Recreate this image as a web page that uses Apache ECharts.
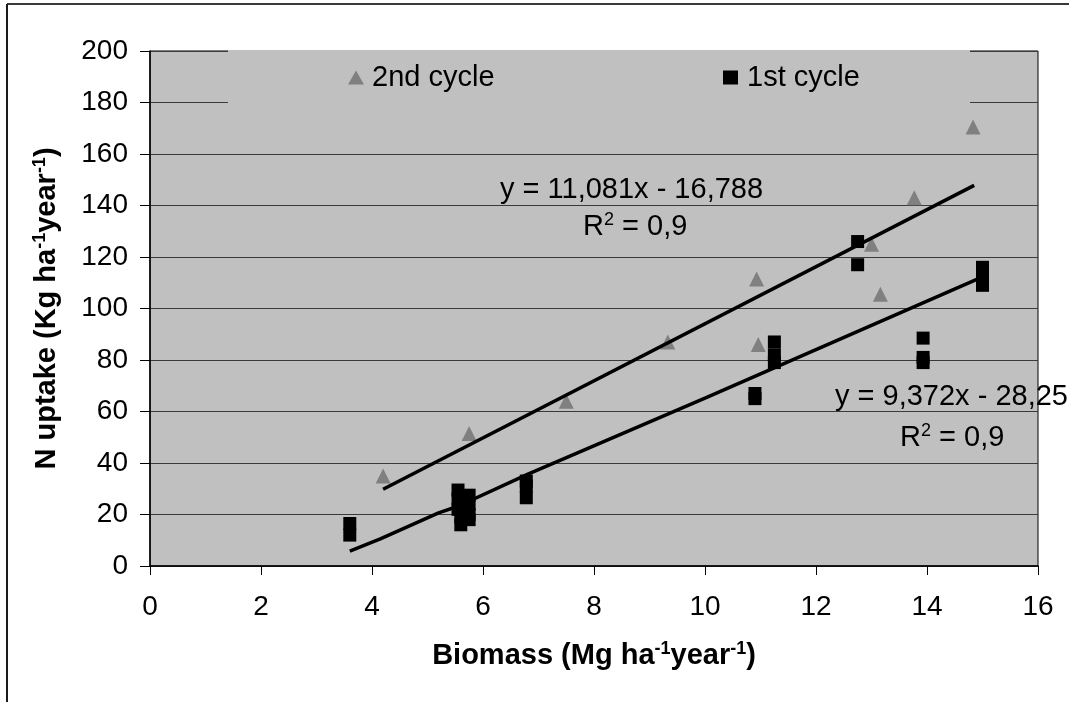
<!DOCTYPE html>
<html>
<head>
<meta charset="utf-8">
<script src="https://cdn.jsdelivr.net/npm/echarts@6/dist/echarts.min.js"></script>
<style>
html, body { margin: 0; padding: 0; background: #fff; }
#main { width: 1069px; height: 702px; }
</style>
</head>
<body>
<div id="main"></div>
<script>
// 数据：从图上读出来的点
var cycle2 = [
	[4.2, 35], [5.75, 51.5], [7.5, 64], [9.33, 87], [10.93, 111.5],
	[10.96, 86], [13.0, 125], [13.16, 105.5], [13.77, 143], [14.83, 170.5]
];
var cycle1 = [
	[3.6, 16.5], [3.6, 12],
	[5.55, 29.5], [5.55, 26], [5.55, 22], [5.6, 19], [5.6, 16],
	[5.75, 27.5], [5.75, 24], [5.75, 20], [5.75, 18],
	[6.78, 33], [6.78, 31], [6.78, 26.5],
	[10.9, 67], [10.9, 65],
	[11.25, 87], [11.25, 82], [11.25, 79],
	[12.75, 126], [12.75, 117],
	[13.93, 88.5], [13.93, 81], [13.93, 79],
	[15.0, 116], [15.0, 113], [15.0, 109]
];
// 趋势线端点（也是从图上读的）
var trend2 = [[4.2, 29.8], [14.85, 147.8]];
var trend1 = [[3.6, 5.8], [4.15, 10.5], [5.2, 20.6], [5.55, 23.2], [6.8, 35.6], [10.0, 65.2], [15.0, 112.3]];

var xTicks = [0, 2, 4, 6, 8, 10, 12, 14, 16];
var yTicks = [0, 20, 40, 60, 80, 100, 120, 140, 160, 180, 200];

var FONT = 'Liberation Sans, Arial, sans-serif';
var supStyle = { fontFamily: FONT, fontSize: 18, verticalAlign: 'top', padding: [0, 0, 13, 0] };

var myChart = echarts.init(document.getElementById('main'));

var option = {
	backgroundColor: '#fff',
	animation: false,
	grid: {
		left: 150,
		right: 31,
		top: 51,
		bottom: 136,
		show: true,
		backgroundColor: '#c0c0c0',
		borderColor: '#000',
		borderWidth: 1
	},
	legend: [{
		left: 343,
		top: 58,
		itemWidth: 16,
		itemHeight: 14,
		itemGap: 0,
		textStyle: { fontFamily: FONT, fontSize: 29, color: '#000', padding: [0, 0, 0, 3] },
		data: [{ name: '2nd cycle', icon: 'triangle' }]
	}, {
		left: 718,
		top: 58,
		itemWidth: 15,
		itemHeight: 14,
		itemGap: 0,
		textStyle: { fontFamily: FONT, fontSize: 29, color: '#000', padding: [0, 0, 0, 4] },
		data: [{ name: '1st cycle', icon: 'rect' }]
	}],
	xAxis: {
		type: 'value',
		min: 0,
		max: 16,
		interval: 2,
		name: 'Biomass (Mg ha{s|-1}year{s|-1})',
		nameLocation: 'middle',
		nameGap: 74,
		nameTextStyle: {
			fontFamily: FONT, fontSize: 29, fontWeight: 'bold', color: '#000',
			rich: { s: Object.assign({ fontWeight: 'bold' }, supStyle) }
		},
		axisLine: { lineStyle: { color: '#000', width: 1.5 } },
		axisTick: { show: true, length: 9, lineStyle: { color: '#000', width: 1 } },
		axisLabel: {
			fontFamily: FONT, fontSize: 28, color: '#000', margin: 27,
			formatter: function (v) { return xTicks.indexOf(v) >= 0 ? String(v) : ''; }
		},
		splitLine: { show: false }
	},
	yAxis: {
		type: 'value',
		min: 0,
		max: 200,
		interval: 20,
		name: 'N uptake (Kg ha{s|-1}year{s|-1})',
		nameLocation: 'middle',
		nameGap: 88,
		nameTextStyle: {
			fontFamily: FONT, fontSize: 29, fontWeight: 'bold', color: '#000',
			rich: { s: Object.assign({ fontWeight: 'bold' }, supStyle) }
		},
		axisLine: { show: true, lineStyle: { color: '#000', width: 1.5 } },
		axisTick: { show: true, length: 10, lineStyle: { color: '#000', width: 1 } },
		axisLabel: {
			fontFamily: FONT, fontSize: 28, color: '#000', margin: 22,
			formatter: function (v) { return yTicks.indexOf(v) >= 0 ? String(v) : ''; }
		},
		splitLine: { show: true, lineStyle: { color: '#3a3a3a', width: 1 } }
	},
	graphic: [
		// 图例下面的灰色底，挡住网格线
		{ type: 'rect', z: 1, shape: { x: 228, y: 50, width: 742, height: 60 }, style: { fill: '#c0c0c0' } },
		// 外框（被裁掉一半）
		{ type: 'line', z: 5, shape: { x1: 7, y1: 4, x2: 1069, y2: 4 }, style: { stroke: '#3a3a3a', lineWidth: 2 } },
		{ type: 'line', z: 5, shape: { x1: 7, y1: 4, x2: 7, y2: 702 }, style: { stroke: '#1a1a1a', lineWidth: 2 } },
		// 趋势线公式
		{ type: 'text', z: 5, left: 500, top: 175, style: { text: 'y = 11,081x - 16,788', font: '29px ' + FONT, fill: '#000' } },
		{ type: 'text', z: 5, left: 583, top: 211, style: {
			text: 'R{s|2} = 0,9', font: '29px ' + FONT, fill: '#000', rich: { s: supStyle }
		} },
		{ type: 'text', z: 5, left: 835, top: 382, style: { text: 'y = 9,372x - 28,25', font: '29px ' + FONT, fill: '#000' } },
		{ type: 'text', z: 5, left: 900, top: 422, style: {
			text: 'R{s|2} = 0,9', font: '29px ' + FONT, fill: '#000', rich: { s: supStyle }
		} }
	],
	series: [{
		name: '2nd cycle',
		type: 'scatter',
		symbol: 'triangle',
		symbolSize: [15, 15],
		itemStyle: { color: '#808080', opacity: 1 },
		data: cycle2,
		z: 3
	}, {
		name: '1st cycle',
		type: 'scatter',
		symbol: 'rect',
		symbolSize: [13, 13],
		itemStyle: { color: '#000', opacity: 1 },
		data: cycle1,
		z: 4
	}, {
		name: 'trend2',
		type: 'line',
		data: trend2,
		symbol: 'none',
		lineStyle: { color: '#000', width: 3.5 },
		z: 5
	}, {
		name: 'trend1',
		type: 'line',
		data: trend1,
		symbol: 'none',
		lineStyle: { color: '#000', width: 3.5 },
		z: 5
	}]
};

myChart.setOption(option);
</script>
</body>
</html>
